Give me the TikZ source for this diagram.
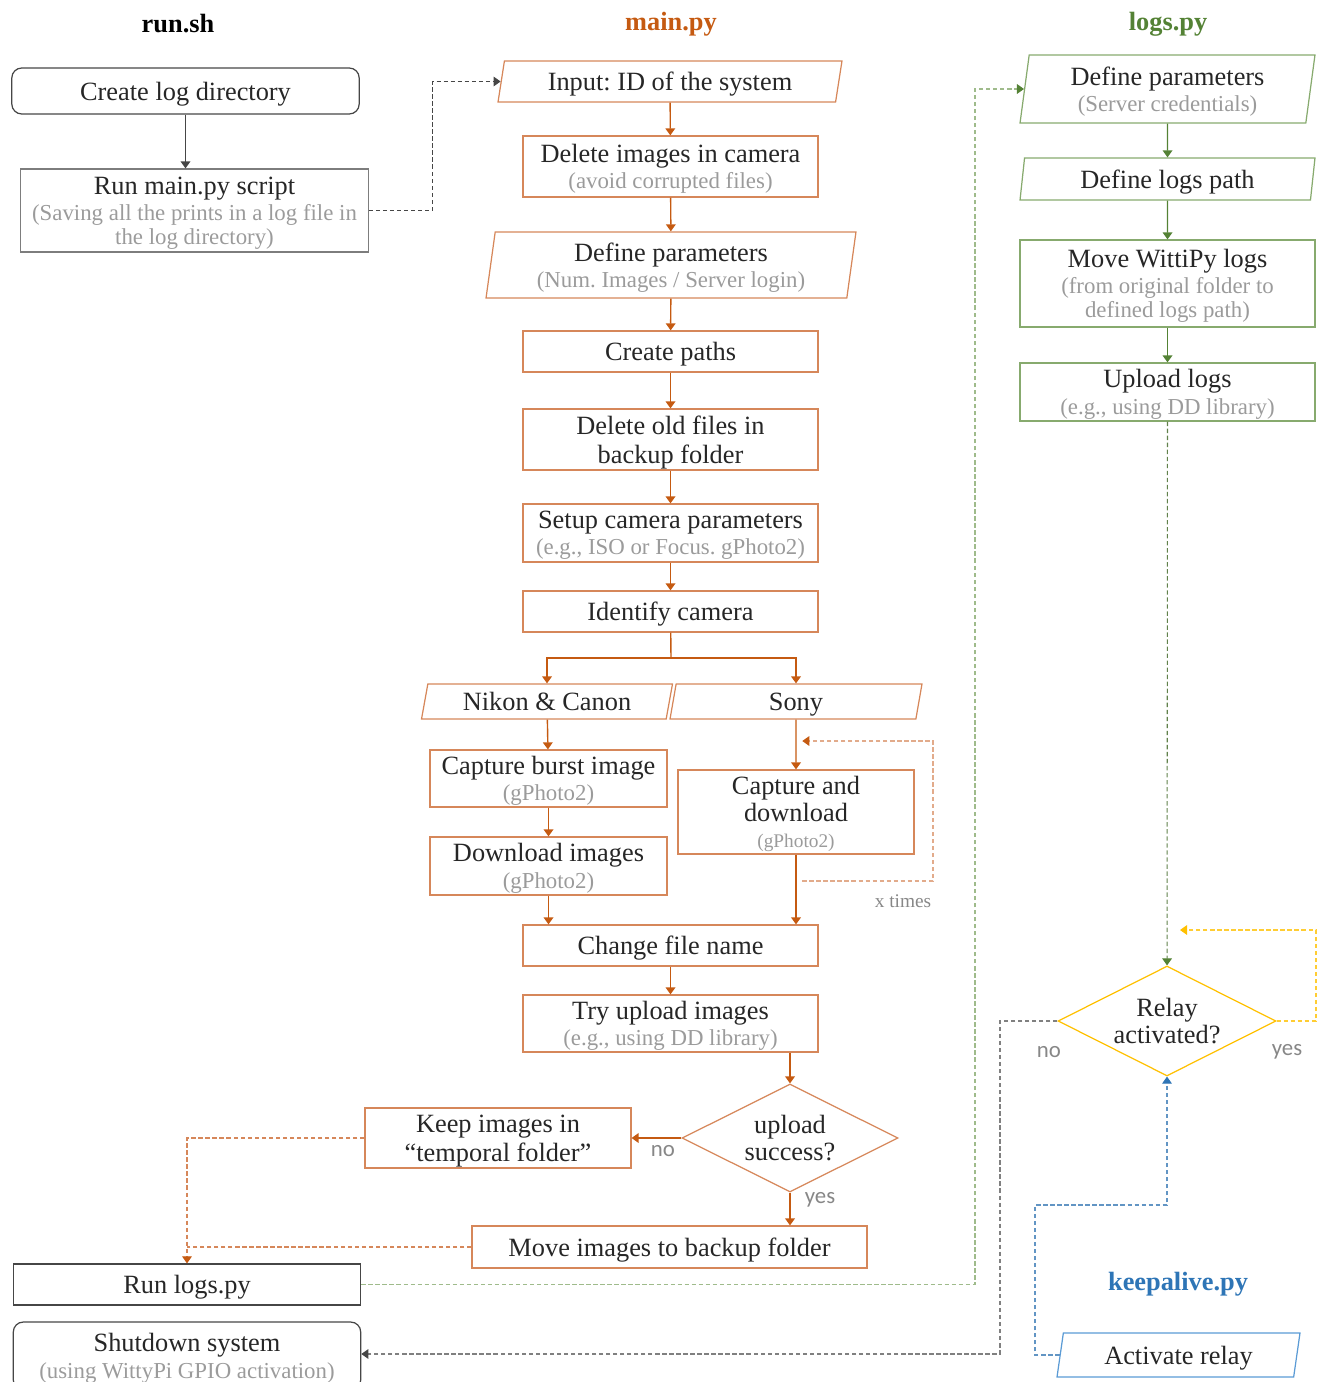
\documentclass[tikz,border=0pt]{standalone}
\usepackage{fontspec}
\setmainfont{Liberation Serif}
\newfontfamily\labelfont{Carlito}
\frenchspacing
\usetikzlibrary{arrows.meta,shapes.geometric,positioning,calc}
\definecolor{mainColor}{RGB}{197,90,17}
\definecolor{mainBorder}{RGB}{214,135,90}
\definecolor{logsColor}{RGB}{84,130,53}
\definecolor{logsBorder}{RGB}{135,170,110}
\definecolor{runColor}{RGB}{70,70,70}
\definecolor{runBorder}{RGB}{125,125,125}
\definecolor{relayColor}{RGB}{255,192,0}
\definecolor{aliveColor}{RGB}{46,117,182}
\definecolor{aliveBorder}{RGB}{91,155,213}
\definecolor{subGray}{RGB}{155,155,155}
\definecolor{labelGray}{RGB}{135,135,135}
\newcommand{\subtxt}[1]{{\color{subGray}\fontsize{13}{14}\selectfont #1}}
\newcommand{\smalltxt}[1]{{\color{subGray}\fontsize{11}{12}\selectfont #1}}
\tikzset{box/.style={draw, align=center, text=black!85, font=\fontsize{15}{15}\selectfont, inner sep=2pt, line width=0.7pt, text depth=-4pt}}
\tikzset{runbox/.style={box, draw=runBorder, minimum width=6.95cm}}
\tikzset{mainbox/.style={box, draw=mainBorder, minimum width=5.9cm}}
\tikzset{logsbox/.style={box, draw=logsBorder, minimum width=5.9cm}}
\tikzset{para/.style={box, trapezium, trapezium left angle=76, trapezium right angle=104, trapezium stretches body}}
\tikzset{paratall/.style={para, trapezium left angle=80, trapezium right angle=100}}
\tikzset{decision/.style={box, diamond, aspect=2, inner sep=0pt, text depth=0pt}}
\tikzset{title/.style={font=\fontsize{15}{16}\selectfont\bfseries}}
\tikzset{answer/.style={font=\labelfont\fontsize{13}{14}\selectfont, text=labelGray}}
\tikzset{flow/.style={line width=0.8pt, -{Triangle[width=5.5pt,length=4pt]}}}
\tikzset{link/.style={line width=0.6pt, dash pattern=on 2.5pt off 1.5pt}}

\begin{document}
\begin{tikzpicture}[x=0.02cm, y=-0.02cm]
\useasboundingbox (0,0) rectangle (1319,1382);

% Titles
\node (runtitle) [title, text=black] at (178,24) {run.sh};
\node (maintitle) [title, text=mainColor] at (671,24) {main.py};
\node (logstitle) [title, text=logsColor] at (1168,24) {logs.py};
\node (alivetitle) [title, text=aliveColor] at (1178,1284) {keepalive.py};

% run.sh
\node (createlog) [runbox, draw=runColor, rounded corners=0.2cm, minimum height=0.92cm] at (185.5,91) {Create log directory};
\node (runmain) [runbox, minimum height=1.66cm] at (194.5,210.5) {Run main.py script\\ \subtxt{(Saving all the prints in a log file in}\\[-1.5pt] \subtxt{the log directory)}};
\node (runlogs) [runbox, draw=runColor, minimum height=0.82cm] at (187,1284.5) {Run logs.py};
\node (shutdown) [runbox, draw=runColor, rounded corners=0.2cm, minimum height=1.36cm] at (187,1356) {Shutdown system\\ \subtxt{(using WittyPi GPIO activation)}};

% main.py
\node (input) [para, draw=mainBorder, minimum width=6.88cm, minimum height=0.82cm] at (670,81.5) {Input: ID of the system};
\node (delcam) [mainbox, minimum height=1.22cm] at (670.5,166.5) {Delete images in camera\\ \subtxt{(avoid corrupted files)}};
\node (defparam) [paratall, draw=mainBorder, minimum width=7.4cm, minimum height=1.32cm] at (671,265) {Define parameters\\ \subtxt{(Num. Images / Server login)}};
\node (paths) [mainbox, minimum height=0.82cm] at (670.5,351.5) {Create paths};
\node (delold) [mainbox, minimum height=1.22cm] at (670.5,439.5) {Delete old files in\\[1.5pt] backup folder};
\node (setup) [mainbox, minimum height=1.16cm] at (670.5,533) {Setup camera parameters\\ \subtxt{(e.g., ISO or Focus. gPhoto2)}};
\node (identify) [mainbox, minimum height=0.82cm] at (670.5,611.5) {Identify camera};
\coordinate (split) at (671,658);

\node (nikon) [para, draw=mainBorder, minimum width=5.02cm, minimum height=0.7cm] at (547,701.5) {Nikon \& Canon};
\node (sony) [para, draw=mainBorder, minimum width=5.04cm, minimum height=0.7cm] at (796,701.5) {Sony};
\node (burst) [mainbox, minimum width=4.74cm, minimum height=1.14cm] at (548.5,778.5) {Capture burst image\\ \subtxt{(gPhoto2)}};
\node (download) [mainbox, minimum width=4.74cm, minimum height=1.16cm] at (548.5,866) {Download images\\ \subtxt{(gPhoto2)}};
\node (capdown) [mainbox, minimum width=4.72cm, minimum height=1.68cm] at (796,812) {Capture and\\ download\\ \smalltxt{(gPhoto2)}};
\coordinate (loopstart) at (797,881);
\coordinate (loopend) at (797,741);
\node (xtimes) [text=labelGray, font=\fontsize{11}{12}\selectfont] at (903,901) {x times};

\node (rename) [mainbox, minimum height=0.82cm] at (670.5,945.5) {Change file name};
\node (tryup) [mainbox, minimum height=1.14cm] at (670.5,1023.5) {Try upload images\\ \subtxt{(e.g., using DD library)}};
\node (success) [decision, draw=mainBorder, minimum width=4.32cm, minimum height=2.16cm] at (790,1138) {upload\\ success?};
\node (keep) [mainbox, minimum width=5.32cm, minimum height=1.2cm] at (498,1138) {Keep images in\\[1.5pt] “temporal folder”};
\node (moveimg) [mainbox, minimum width=7.9cm, minimum height=0.84cm] at (669.5,1247) {Move images to backup folder};
\node (nomain) [answer] at (663,1151) {no};
\node (yesmain) [answer] at (820,1200) {yes};

% logs.py
\node (ldefparam) [paratall, draw=logsBorder, minimum width=5.9cm, minimum height=1.36cm] at (1167.5,89) {Define parameters\\ \subtxt{(Server credentials)}};
\node (lpath) [paratall, draw=logsBorder, minimum width=5.9cm, minimum height=0.84cm] at (1167.5,179) {Define logs path};
\node (movewitti) [logsbox, minimum height=1.74cm] at (1167.5,283.5) {Move WittiPy logs\\ \subtxt{(from original folder to}\\[-1.5pt] \subtxt{defined logs path)}};
\node (uplogs) [logsbox, minimum height=1.16cm] at (1167.5,392) {Upload logs\\ \subtxt{(e.g., using DD library)}};

% keepalive.py
\node (relay) [decision, draw=relayColor, minimum width=4.36cm, minimum height=2.2cm] at (1167,1021) {Relay\\ activated?};
\coordinate (relayback) at (1180,930);
\node (activate) [para, draw=aliveBorder, minimum width=4.86cm, minimum height=0.88cm] at (1178.5,1355) {Activate relay};
\node (norelay) [answer] at (1049,1052) {no};
\node (yesrelay) [answer] at (1287,1052) {yes};

% Connectors
\draw [flow, draw=runColor] (createlog.south) -- (createlog.south |- runmain.north);
\draw [flow, link, draw=runColor] (runmain.east) -| ([xshift=-1.36cm]input.west) -- (input.west);

\begin{scope}[flow, draw=mainColor]
\draw (input) -- (delcam);
\draw (delcam) -- (defparam);
\draw (defparam) -- (paths);
\draw (paths) -- (delold);
\draw (delold) -- (setup);
\draw (setup) -- (identify);
\draw [-] (identify) -- (split);
\draw (split) -| (nikon);
\draw (split) -| (sony);
\draw (nikon) -- (burst);
\draw (burst) -- (download);
\draw (download.south) -- (download.south |- rename.north);
\draw (sony) -- (capdown);
\draw (capdown.south) -- (capdown.south |- rename.north);
\draw (rename) -- (tryup);
\draw (tryup.south -| success.north) -- (success.north);
\draw (success.west) -- (keep.east);
\draw (success.south) -- (success.south |- moveimg.north);
\end{scope}
\draw [flow, link, draw=mainBorder!70, -{Triangle[width=5.5pt,length=4pt,color=mainColor]}] ([xshift=3pt]loopstart) -| (933,741) -- ([xshift=3pt]loopend);
\draw [flow, link, draw=mainBorder, -{Triangle[width=5.5pt,length=4pt,color=mainColor]}] (keep.west) -| (runlogs.north);
\draw [link, draw=mainBorder] (moveimg.west) -- (moveimg.west -| runlogs.north);

\draw [flow, link, draw=logsBorder!80, -{Triangle[width=5.5pt,length=4pt,color=logsColor]}] (runlogs.east) -| ([xshift=-0.98cm]ldefparam.west) -- (ldefparam.west);
\begin{scope}[flow, draw=logsColor]
\draw (ldefparam) -- (lpath);
\draw (lpath) -- (movewitti);
\draw (movewitti) -- (uplogs);
\end{scope}
\draw [flow, link, draw=logsColor!70!gray, -{Triangle[width=5.5pt,length=4pt,color=logsColor]}] (uplogs) -- (relay);

\draw [flow, link, draw=relayColor!80, -{Triangle[width=5.5pt,length=4pt,color=relayColor]}] (relay.east) -| (1316,930) -- (relayback);
\draw [flow, link, draw=gray, -{Triangle[width=5.5pt,length=4pt,color=runColor]}] (relay.west) -| (1000,1354) -- (shutdown.east |- 0,1354);
\draw [flow, link, draw=aliveBorder!80!gray, -{Triangle[width=5.5pt,length=4pt,color=aliveColor]}] (activate.west) -| (1035,1205) -| (relay.south);

\end{tikzpicture}
\end{document}
